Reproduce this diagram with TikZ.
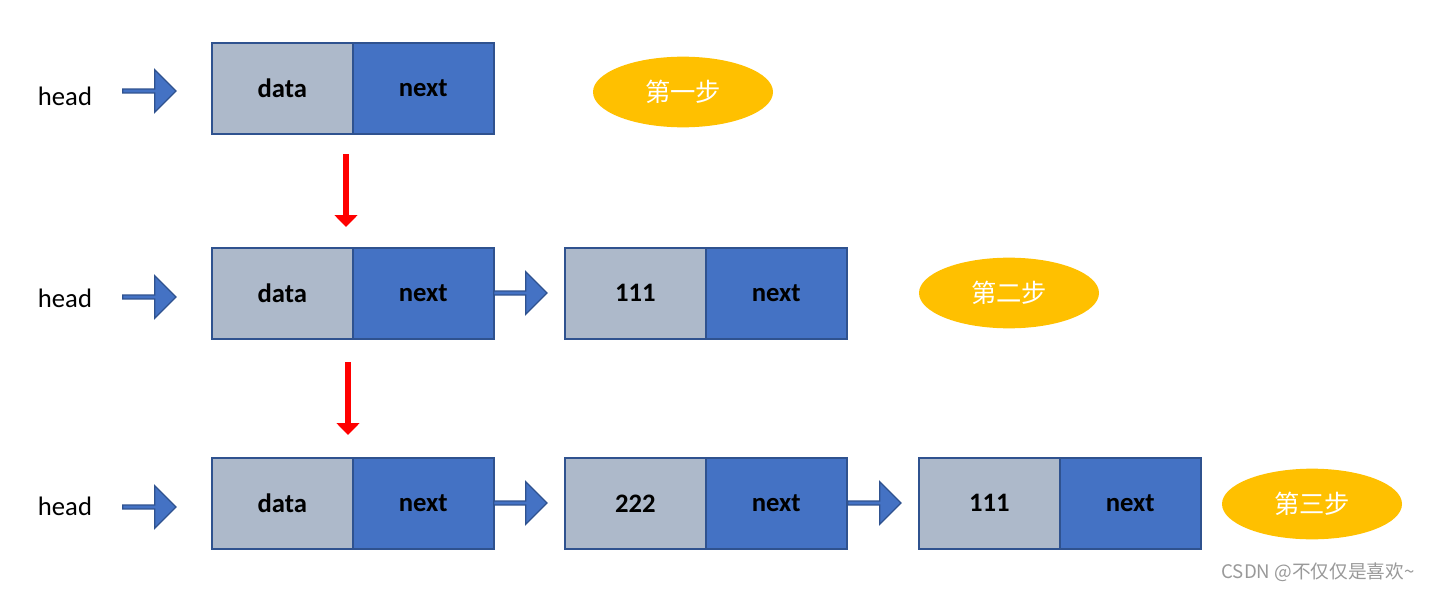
\documentclass[tikz,border=0pt]{standalone}
\usepackage{fontspec}
\setmainfont{Carlito}
\newfontfamily\cjk{Noto Sans CJK SC}
\usetikzlibrary{shapes.arrows,shapes.geometric,arrows.meta}
\definecolor{cg}{HTML}{ADB9CA}
\definecolor{cb}{HTML}{4472C4}
\definecolor{cbd}{HTML}{2F528F}
\definecolor{cy}{HTML}{FFC000}
\begin{document}
\begin{tikzpicture}[x=0.75pt,y=-0.75pt,
 cell/.style={draw=cbd,line width=1.2pt,minimum width=105.75pt,minimum height=68.25pt,inner sep=0,font=\fontsize{20}{24}\selectfont\bfseries,anchor=north west},
 dcell/.style={cell,fill=cg},
 ncell/.style={cell,fill=cb},
 barrow/.style={single arrow,draw=cbd,fill=cb,line width=1pt,minimum height=40pt,minimum width=32pt,single arrow head extend=5pt,inner sep=0,anchor=west,shape border rotate=0},
 redarr/.style={draw=red,line width=5pt,-{Triangle[length=9pt,width=17pt]}},
 stepell/.style={ellipse,fill=cy,minimum width=135pt,minimum height=53pt,text=white,font=\cjk\fontsize{19}{22}\selectfont},
 hd/.style={font=\fontsize{20}{24}\selectfont}]
\useasboundingbox (0,0) rectangle (1435,592);
% row 1
\node[hd] (h1) at (65,96) {head};
\node[barrow] (a1) at (122,91) {};
\node[dcell] (d1) at (211,42) {data};
\node[ncell] (n1) at (352,42) {next};
\node[stepell] (s1) at (683,92) {第一步};
% row 2
\node[hd] (h2) at (65,298) {head};
\node[barrow] (a2) at (122,297) {};
\node[dcell] (d2) at (211,247) {data};
\node[ncell] (n2) at (352,247) {next};
\node[barrow] (a3) at (493,293) {};
\node[dcell] (d3) at (564,247) {111};
\node[ncell] (n3) at (705,247) {next};
\node[stepell] (s2) at (1009,293) {第二步};
% row 3
\node[hd] (h3) at (65,506) {head};
\node[barrow] (a4) at (122,507) {};
\node[dcell] (d4) at (211,457) {data};
\node[ncell] (n4) at (352,457) {next};
\node[barrow] (a5) at (493,503) {};
\node[dcell] (d5) at (564,457) {222};
\node[ncell] (n5) at (705,457) {next};
\node[barrow] (a6) at (847,503) {};
\node[dcell] (d6) at (918,457) {111};
\node[ncell] (n6) at (1059,457) {next};
\node[stepell] (s3) at (1312,504) {第三步};
% red arrows
\coordinate (r1s) at (346,154); \coordinate (r1e) at (346,227);
\coordinate (r2s) at (348,362); \coordinate (r2e) at (348,435);
\draw[redarr] (r1s) -- (r1e);
\draw[redarr] (r2s) -- (r2e);
\node[text=gray!80,font=\cjk\fontsize{14}{16}\selectfont] (wm) at (1318,572) {CSDN @不仅仅是喜欢\textasciitilde};
\end{tikzpicture}
\end{document}
